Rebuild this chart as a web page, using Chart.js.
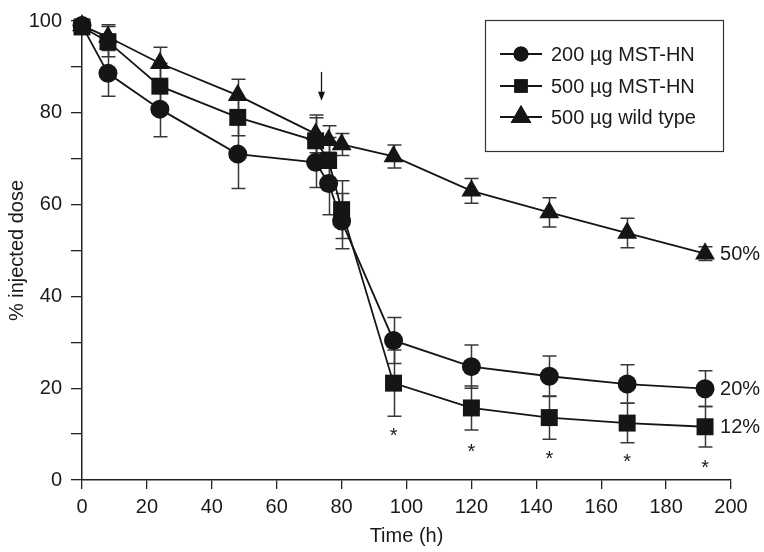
<!DOCTYPE html>
<html>
<head>
<meta charset="utf-8">
<script src="https://cdn.jsdelivr.net/npm/chart.js@4.4.1/dist/chart.umd.min.js"></script>
<style>
  html, body { margin: 0; padding: 0; background: #fff; }
  #wrap { width: 764px; height: 552px; }
</style>
</head>
<body>
<div id="wrap"><canvas id="chart" width="764" height="552"></canvas></div>
<script>
// Dados
const times = [0, 8, 24, 48, 72, 76, 80, 96, 120, 144, 168, 192];

const dose200 = [99, 88.6, 80.8, 71, 69.2, 64.6, 56.4, 30.4, 24.7, 22.6, 20.9, 19.9];
const err200 = [0, 5, 6, 7.5, 5.5, 6.8, 6, 5, 4.7, 4.4, 4.2, 3.9];

const dose500 = [98.7, 95.5, 85.8, 79, 73.9, 69.6, 58.9, 21.1, 15.7, 13.6, 12.4, 11.6];
const err500 = [0, 3.3, 5, 4, 5, 5, 6.3, 7.2, 4.8, 4.7, 4.3, 4.4];

const doseWild = [99, 96.5, 90.8, 83.8, 75.4, 74, 73.1, 70.5, 63, 58.3, 53.8, 49.3];
const errWild = [0, 2.7, 3.5, 3.5, 4.1, 3.2, 2.4, 2.5, 2.7, 3.2, 3.2, 1.5];

const seriesLabels = ['200 \u00b5g MST-HN', '500 \u00b5g MST-HN', '500 \u00b5g wild type'];
const seriesStyles = ['circle', 'rect', 'triangle'];
const drawOrder = [1, 0, 2];

const yTicks = [0, 20, 40, 60, 80, 100];
const xTicks = [0, 20, 40, 60, 80, 100, 120, 140, 160, 180, 200];

// asteriscos (significância) sob a série 500 µg MST-HN
const starTimes = [96, 120, 144, 168, 192];
const starValues = [11, 7.4, 5.8, 5.2, 3.9];

// rótulos finais
const endLabels = ['50%', '20%', '12%'];
const endValues = [49.3, 19.9, 11.6];

// seta
const arrowTime = 73.6;
const arrowFrom = 88.9;
const arrowTo = 82.6;

const FONT = '"Liberation Sans", Arial, Helvetica, sans-serif';
const INK = '#151515';

const series = [
    { values: dose200, err: err200, radius: 9.5 },
    { values: dose500, err: err500, radius: 12 },
    { values: doseWild, err: errWild, radius: 11.5 }
];

function toPoints(values) {
    return times.map((t, i) => ({ x: t, y: values[i] }));
}

// Barras de erro
const errorBars = {
    id: 'errorBars',
    beforeDatasetsDraw(chart) {
        const ctx = chart.ctx;
        const xs = chart.scales.x;
        const ys = chart.scales.y;
        ctx.save();
        ctx.strokeStyle = '#383838';
        ctx.lineWidth = 1.5;
        series.forEach(s => {
            times.forEach((t, i) => {
                const e = s.err[i];
                if (!e) return;
                const px = Math.round(xs.getPixelForValue(t)) + 0.5;
                const top = ys.getPixelForValue(s.values[i] + e);
                const bot = ys.getPixelForValue(s.values[i] - e);
                ctx.beginPath();
                ctx.moveTo(px, top);
                ctx.lineTo(px, bot);
                ctx.moveTo(px - 7, top);
                ctx.lineTo(px + 7, top);
                ctx.moveTo(px - 7, bot);
                ctx.lineTo(px + 7, bot);
                ctx.stroke();
            });
        });
        ctx.restore();
    }
};

// Legenda, asteriscos, seta e rótulos
const extras = {
    id: 'extras',
    afterDraw(chart) {
        const ctx = chart.ctx;
        const xs = chart.scales.x;
        const ys = chart.scales.y;
        ctx.save();

        // caixa da legenda
        ctx.strokeStyle = '#333';
        ctx.lineWidth = 1.2;
        ctx.strokeRect(485.5, 20.5, 238, 131);
        const rowY = [54, 86, 117];
        const legendRadius = [7.5, 9.5, 12];
        seriesLabels.forEach((label, i) => {
            const y = rowY[i];
            ctx.strokeStyle = INK;
            ctx.lineWidth = 1.8;
            ctx.beginPath();
            ctx.moveTo(500, y);
            ctx.lineTo(542, y);
            ctx.stroke();
            Chart.helpers.drawPoint(ctx, {
                pointStyle: seriesStyles[i],
                radius: legendRadius[i],
                borderWidth: 0,
                rotation: 0
            }, 521, y);
            ctx.fillStyle = INK;
            ctx.fill();
            ctx.fillStyle = '#1a1a1a';
            ctx.font = '20px ' + FONT;
            ctx.textAlign = 'left';
            ctx.textBaseline = 'middle';
            ctx.fillText(label, 551, y + 1);
        });

        // asteriscos
        ctx.fillStyle = '#1a1a1a';
        ctx.font = '20px ' + FONT;
        ctx.textAlign = 'center';
        ctx.textBaseline = 'alphabetic';
        starTimes.forEach((t, i) => {
            ctx.fillText('*', xs.getPixelForValue(t), ys.getPixelForValue(starValues[i]) + 12);
        });

        // rótulos finais
        ctx.textAlign = 'left';
        ctx.textBaseline = 'middle';
        endLabels.forEach((txt, i) => {
            ctx.fillText(txt, xs.getPixelForValue(192) + 15, ys.getPixelForValue(endValues[i]) + 1);
        });

        // seta
        const ax = Math.round(xs.getPixelForValue(arrowTime)) + 0.5;
        const ay0 = ys.getPixelForValue(arrowFrom);
        const ay1 = ys.getPixelForValue(arrowTo);
        ctx.strokeStyle = INK;
        ctx.lineWidth = 1.3;
        ctx.beginPath();
        ctx.moveTo(ax, ay0);
        ctx.lineTo(ax, ay1 - 8);
        ctx.stroke();
        ctx.fillStyle = INK;
        ctx.beginPath();
        ctx.moveTo(ax - 3.5, ay1 - 9);
        ctx.lineTo(ax + 3.5, ay1 - 9);
        ctx.lineTo(ax, ay1);
        ctx.closePath();
        ctx.fill();

        ctx.restore();
    }
};

const datasets = series.map((s, i) => ({
    label: seriesLabels[i],
    data: toPoints(s.values),
    order: drawOrder[i],
    borderColor: INK,
    borderWidth: 1.8,
    backgroundColor: INK,
    pointStyle: seriesStyles[i],
    pointRadius: s.radius,
    pointBackgroundColor: INK,
    pointBorderColor: INK,
    pointBorderWidth: 0,
    tension: 0,
    clip: false
}));

const ctx = document.getElementById('chart').getContext('2d');
new Chart(ctx, {
    type: 'line',
    data: { datasets: datasets },
    options: {
        responsive: false,
        animation: false,
        events: [],
        layout: { padding: { left: 0, right: 33, top: 17, bottom: 0 } },
        plugins: {
            legend: { display: false },
            tooltip: { enabled: false }
        },
        scales: {
            x: {
                type: 'linear',
                min: 0,
                max: 200,
                afterFit(scale) { scale.height = 72; },
                afterBuildTicks(scale) { scale.ticks = xTicks.map(v => ({ value: v })); },
                ticks: { color: '#1a1a1a', font: { family: FONT, size: 20 }, padding: 6, maxRotation: 0 },
                grid: { display: true, drawOnChartArea: false, drawTicks: true, tickLength: 9, color: '#222', lineWidth: 1.3 },
                border: { display: true, color: '#222', width: 1.5 },
                title: { display: true, text: 'Time (h)', color: '#1a1a1a', font: { family: FONT, size: 20 }, padding: { top: 0, bottom: 4 } }
            },
            y: {
                type: 'linear',
                min: 0,
                max: 100,
                afterFit(scale) { scale.width = 82; },
                ticks: {
                    stepSize: 10,
                    color: '#1a1a1a',
                    font: { family: FONT, size: 20 },
                    padding: 9,
                    callback: v => (yTicks.includes(v) ? String(v) : '')
                },
                grid: { display: true, drawOnChartArea: false, drawTicks: true, tickLength: 11, color: '#222', lineWidth: 1.3 },
                border: { display: true, color: '#222', width: 1.5 },
                title: { display: true, text: '% injected dose', color: '#1a1a1a', font: { family: FONT, size: 20 }, padding: { top: 5, bottom: 0 } }
            }
        }
    },
    plugins: [errorBars, extras]
});
</script>
</body>
</html>
